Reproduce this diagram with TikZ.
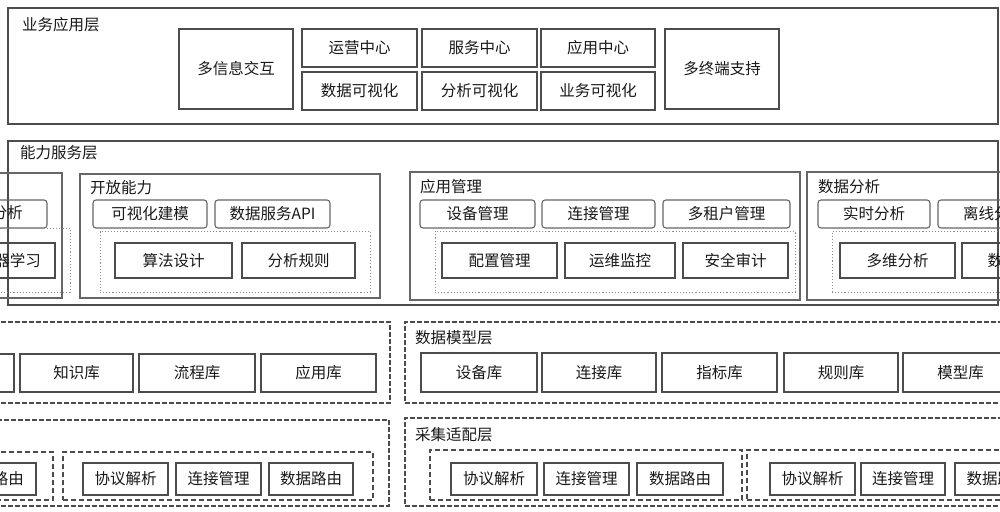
\documentclass[tikz,border=0pt]{standalone}
\usepackage{fontspec}
\setmainfont{Noto Sans CJK SC}
\newcommand{\myrect}[7]{\node[#1, minimum width={(#5-#3)*1pt}, minimum height={(#6-#4)*1pt}] (#2) at ({(#3+#5)/2},{(#4+#6)/2}) {#7};}
\tikzset{
  base/.style={draw=black!70, line width=1.1pt, inner sep=0pt, outer sep=0pt, text=black!90, font=\fontsize{15.5}{18}\selectfont},
  layerbox/.style={base},
  dlayer/.style={base, dashed, dash pattern=on 5pt off 2pt},
  bx/.style={base},
  tabbox/.style={base, rounded corners=3pt, draw=black!60},
  panel/.style={base, draw=black!45, dotted, line width=1pt},
  grp/.style={base, draw=black!60},
  dgrp/.style={base, dashed, dash pattern=on 5pt off 3pt},
  ttl/.style={anchor=west, inner sep=0pt, text=black!90, font=\fontsize{15.5}{18}\selectfont}
}
\begin{document}
\begin{tikzpicture}[x=1pt,y=-1pt]
\useasboundingbox (0,0) rectangle (1000,511);
\fill[white] (0,0) rectangle (1000,511);
\clip (0,0) rectangle (1000,511);
% ---------- Layer 1 ----------
\myrect{layerbox}{L1}{8}{8}{998}{124}{}
\node[ttl] (L1t) at (22,25) {业务应用层};
\myrect{bx}{a1}{179}{29}{293}{109}{多信息交互}
\myrect{bx}{a2}{302}{29}{417}{67}{运营中心}
\myrect{bx}{a3}{302}{72}{417}{110}{数据可视化}
\myrect{bx}{a4}{422}{29}{537}{67}{服务中心}
\myrect{bx}{a5}{422}{72}{537}{110}{分析可视化}
\myrect{bx}{a6}{541}{29}{655}{67}{应用中心}
\myrect{bx}{a7}{541}{72}{655}{110}{业务可视化}
\myrect{bx}{a8}{665}{29}{779}{109}{多终端支持}
% ---------- Layer 2 ----------
\myrect{layerbox}{L2}{8}{141}{998}{305}{}
\node[ttl] (L2t) at (20,153) {能力服务层};
% left partial group
\myrect{grp}{g0}{-20}{173}{62}{298}{}
\myrect{tabbox}{g0t}{-70}{200}{47}{228}{}
\node[base, draw=none] (g0tt) at (-8,213) {数据分析};
\myrect{panel}{g0p}{-30}{228}{70}{292}{}
\myrect{bx}{g0b}{-40}{243}{55}{278}{}
\node[base, draw=none] (g0bt) at (10,261) {机器学习};
% 开放能力
\myrect{grp}{g1}{80}{174}{380}{298}{}
\node[ttl] (g1t) at (90,188) {开放能力};
\myrect{tabbox}{g1a}{93}{200}{207}{228}{可视化建模}
\myrect{tabbox}{g1b}{215}{200}{330}{228}{数据服务API}
\myrect{panel}{g1p}{100}{231}{370}{292}{}
\myrect{bx}{g1c}{115}{243}{232}{278}{算法设计}
\myrect{bx}{g1d}{242}{243}{355}{278}{分析规则}
% 应用管理
\myrect{grp}{g2}{410}{172}{800}{300}{}
\node[ttl] (g2t) at (420,187) {应用管理};
\myrect{tabbox}{g2a}{420}{200}{535}{228}{设备管理}
\myrect{tabbox}{g2b}{542}{200}{655}{228}{连接管理}
\myrect{tabbox}{g2c}{663}{200}{790}{228}{多租户管理}
\myrect{panel}{g2p}{435}{231}{795}{292}{}
\myrect{bx}{g2d}{442}{243}{557}{278}{配置管理}
\myrect{bx}{g2e}{565}{243}{675}{278}{运维监控}
\myrect{bx}{g2f}{683}{243}{788}{278}{安全审计}
% 数据分析
\myrect{grp}{g3}{807}{172}{1010}{300}{}
\node[ttl] (g3t) at (818,187) {数据分析};
\myrect{tabbox}{g3a}{818}{200}{930}{228}{实时分析}
\myrect{tabbox}{g3b}{938}{200}{1050}{228}{离线分析}
\myrect{panel}{g3p}{832}{231}{1010}{292}{}
\myrect{bx}{g3c}{840}{243}{955}{278}{多维分析}
\myrect{bx}{g3d}{962}{243}{1075}{278}{数据挖掘}
% ---------- Layer 3 ----------
\myrect{dlayer}{L3a}{-20}{322}{390}{403}{}
\myrect{bx}{k0}{-100}{354}{14}{392}{}
\myrect{bx}{k1}{20}{354}{133}{392}{知识库}
\myrect{bx}{k2}{139}{354}{255}{392}{流程库}
\myrect{bx}{k3}{261}{354}{376}{392}{应用库}
\myrect{dlayer}{L3b}{405}{322}{1010}{403}{}
\node[ttl] (L3t) at (415,338) {数据模型层};
\myrect{bx}{m1}{421}{353}{537}{392}{设备库}
\myrect{bx}{m2}{542}{353}{656}{392}{连接库}
\myrect{bx}{m3}{662}{353}{777}{392}{指标库}
\myrect{bx}{m4}{784}{353}{898}{392}{规则库}
\myrect{bx}{m5}{903}{353}{1018}{392}{模型库}
% ---------- Layer 4 ----------
\myrect{dlayer}{L4a}{-20}{420}{389}{506}{}
\myrect{dgrp}{c0}{-60}{452}{53}{500}{}
\myrect{bx}{c0a}{-50}{463}{36}{495}{数据路由}
\myrect{dgrp}{c1}{63}{452}{373}{500}{}
\myrect{bx}{c1a}{83}{463}{168}{495}{协议解析}
\myrect{bx}{c1b}{176}{463}{261}{495}{连接管理}
\myrect{bx}{c1c}{269}{463}{353}{495}{数据路由}
\myrect{dlayer}{L4b}{405}{418}{1010}{506}{}
\node[ttl] (L4t) at (415,435) {采集适配层};
\myrect{dgrp}{c2}{430}{450}{742}{500}{}
\myrect{bx}{c2a}{451}{463}{537}{495}{协议解析}
\myrect{bx}{c2b}{544}{463}{629}{495}{连接管理}
\myrect{bx}{c2c}{637}{463}{723}{495}{数据路由}
\myrect{dgrp}{c3}{747}{450}{1060}{500}{}
\myrect{bx}{c3a}{770}{463}{855}{495}{协议解析}
\myrect{bx}{c3b}{861}{463}{945}{495}{连接管理}
\myrect{bx}{c3c}{955}{463}{1040}{495}{数据路由}
\end{tikzpicture}
\end{document}
